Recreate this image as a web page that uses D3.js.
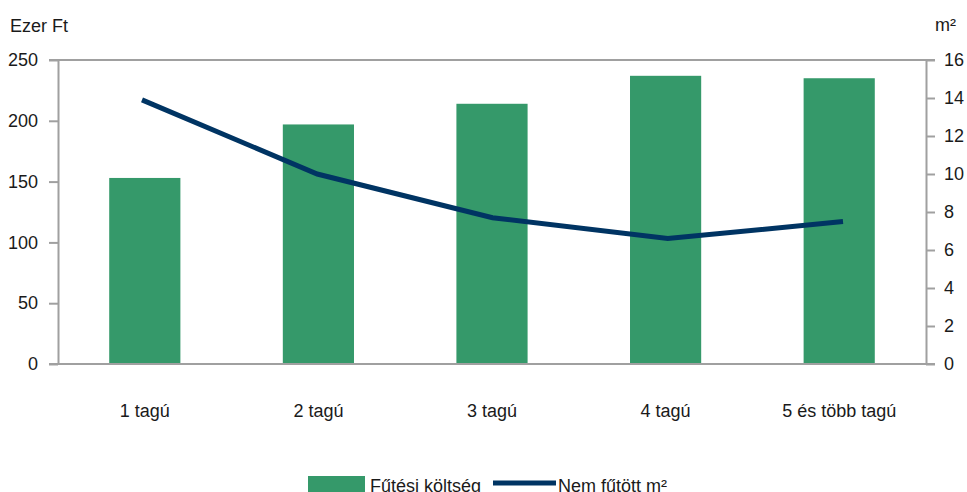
<!DOCTYPE html>
<html>
<head>
<meta charset="utf-8">
<script src="https://cdn.jsdelivr.net/npm/d3@7"></script>
<style>
  body { margin: 0; background: #fff; }
  text { font-family: "Liberation Sans", Arial, sans-serif; fill: #1a1a1a; }
</style>
</head>
<body>
<div id="chart"></div>
<script>
// adatok
var categories = ["1 tagú", "2 tagú", "3 tagú", "4 tagú", "5 és több tagú"];
var koltseg = [153, 197, 214, 237, 235];      // Fűtési költség, ezer Ft
var nemFutott = [13.9, 10.0, 7.7, 6.6, 7.5];  // Nem fűtött m²
var leftTicks = [0, 50, 100, 150, 200, 250];
var rightTicks = [0, 2, 4, 6, 8, 10, 12, 14, 16];

var width = 967, height = 492;
var mLeft = 58, mRight = 926, mTop = 60, mBottom = 364;
var fontSize = 18;
var barColor = "#35996a", lineColor = "#003463", axisColor = "#a0a0a0";

var svg = d3.select("#chart")
    .append("svg")
    .attr("width", width)
    .attr("height", height);

var x = d3.scaleBand()
    .domain(categories)
    .range([mLeft, mRight])
    .paddingInner(0.59)
    .paddingOuter(0.295);

// a vonal pontjai kicsit szélesebben vannak, mint az oszlopok
var xLine = d3.scalePoint()
    .domain(categories)
    .range([mLeft + 84, mRight - 83]);

var y = d3.scaleLinear().domain([0, 250]).range([mBottom, mTop]);
var y2 = d3.scaleLinear().domain([0, 16]).range([mBottom, mTop]);

// oszlopok
svg.append("g")
    .selectAll("rect")
    .data(koltseg)
    .enter()
    .append("rect")
    .attr("x", function (d, i) { return x(categories[i]); })
    .attr("y", function (d) { return y(d); })
    .attr("width", x.bandwidth())
    .attr("height", function (d) { return y(0) - y(d); })
    .attr("fill", barColor);

// keret felül
svg.append("line")
    .attr("x1", mLeft - 9).attr("x2", mRight + 9)
    .attr("y1", mTop).attr("y2", mTop)
    .attr("stroke", axisColor).attr("stroke-width", 2);

// bal tengely
var yAxis = svg.append("g")
    .attr("transform", "translate(" + mLeft + ",0)")
    .call(d3.axisLeft(y).tickValues(leftTicks).tickSize(9).tickSizeOuter(0).tickPadding(11));

// jobb tengely
var y2Axis = svg.append("g")
    .attr("transform", "translate(" + mRight + ",0)")
    .call(d3.axisRight(y2).tickValues(rightTicks).tickSize(9).tickSizeOuter(0).tickPadding(9));

[yAxis, y2Axis].forEach(function (a) {
    a.attr("font-size", null).attr("font-family", null);
    a.select(".domain").attr("stroke", axisColor).attr("stroke-width", 2);
    a.selectAll(".tick line").attr("stroke", axisColor).attr("stroke-width", 2);
    a.selectAll(".tick text").attr("font-size", fontSize).attr("fill", "#1a1a1a");
});

// alsó tengely vonal
svg.append("line")
    .attr("x1", mLeft - 9).attr("x2", mRight + 9)
    .attr("y1", mBottom).attr("y2", mBottom)
    .attr("stroke", axisColor).attr("stroke-width", 2);

// kategória feliratok
svg.append("g")
    .selectAll("text")
    .data(categories)
    .enter()
    .append("text")
    .attr("x", function (d) { return x(d) + x.bandwidth() / 2; })
    .attr("y", 417)
    .attr("text-anchor", "middle")
    .attr("font-size", fontSize)
    .text(function (d) { return d; });

// vonal
var line = d3.line()
    .x(function (d, i) { return xLine(categories[i]); })
    .y(function (d) { return y2(d); });

svg.append("path")
    .datum(nemFutott)
    .attr("d", line)
    .attr("fill", "none")
    .attr("stroke", lineColor)
    .attr("stroke-width", 5);

// tengelycímek
svg.append("text").attr("x", 10).attr("y", 32).attr("font-size", fontSize).text("Ezer Ft");
svg.append("text").attr("x", 935).attr("y", 31).attr("font-size", fontSize).text("m²");

// jelmagyarázat
svg.append("rect")
    .attr("x", 308).attr("y", 476).attr("width", 57).attr("height", 18)
    .attr("fill", barColor);
svg.append("text").attr("x", 370).attr("y", 492).attr("font-size", fontSize).text("Fűtési költség");
svg.append("line")
    .attr("x1", 493).attr("x2", 556).attr("y1", 483).attr("y2", 483)
    .attr("stroke", lineColor).attr("stroke-width", 5);
svg.append("text").attr("x", 558).attr("y", 492).attr("font-size", fontSize).text("Nem fűtött m²");
</script>
</body>
</html>
